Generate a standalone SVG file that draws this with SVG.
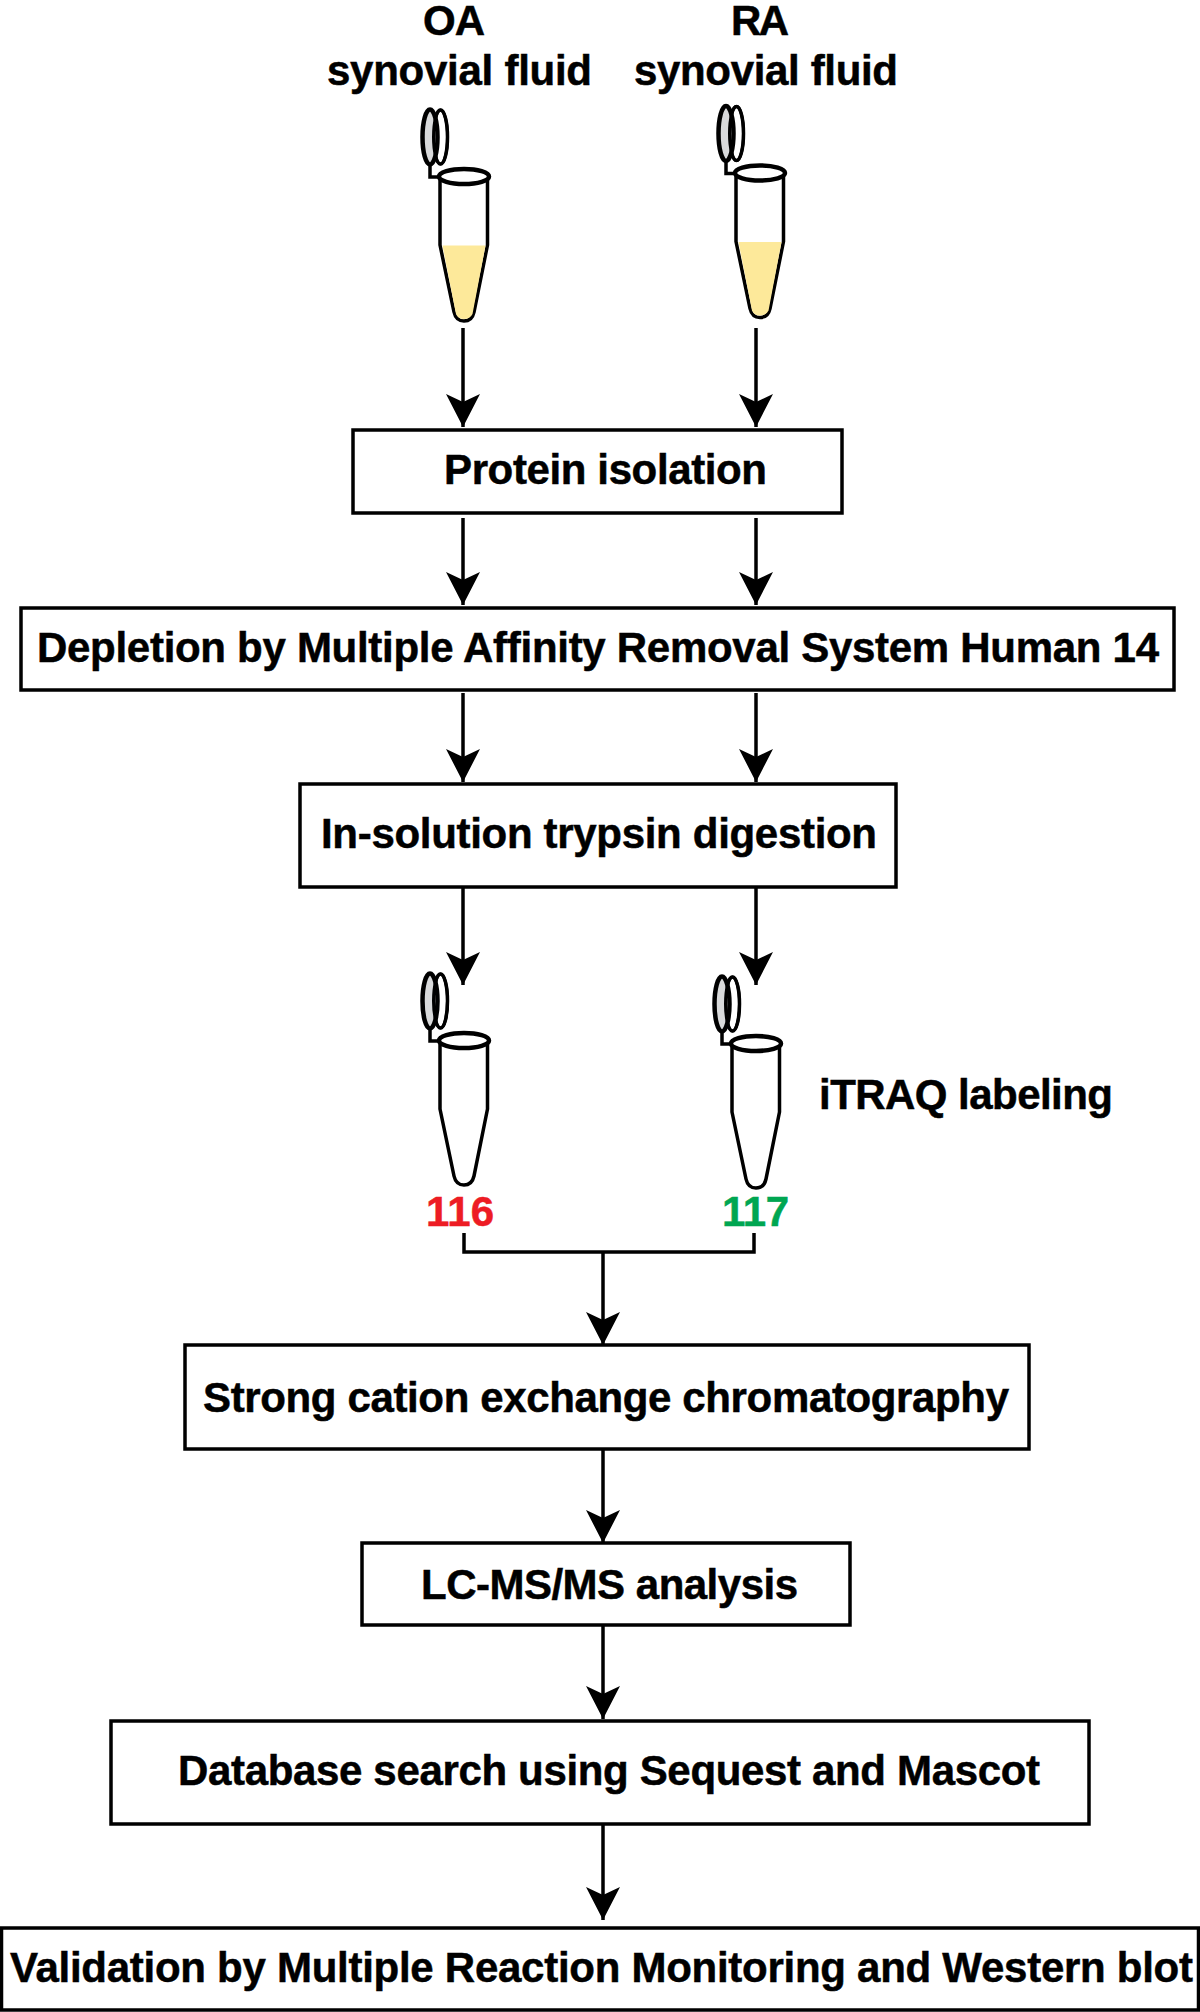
<svg xmlns="http://www.w3.org/2000/svg" xmlns:xlink="http://www.w3.org/1999/xlink" width="1200" height="2012" viewBox="0 0 1200 2012">
<style>
text{font-family:"Liberation Sans",Arial,sans-serif;font-weight:700;font-size:42px;fill:#000;stroke:#000;stroke-width:.5}
.box{fill:#fff;stroke:#000;stroke-width:3.5}
.c{fill:none;stroke:#000;stroke-width:3.5}
.t{fill:#fff;stroke:#000;stroke-width:3.5;stroke-linejoin:round}
.r{fill:#fff;stroke:#000;stroke-width:4.5}
.cap{fill:#fff;stroke:#000;stroke-width:3.5}
.capb{fill:#d9dadb;stroke:#000;stroke-width:4.5}
.capl{fill:none;stroke:#000;stroke-width:3}
</style>
<defs>
<marker id="a" markerUnits="userSpaceOnUse" markerWidth="34" markerHeight="34" refX="33" refY="17" orient="auto"><path d="M0 0L33 17L0 34L8 17Z" fill="#000"/></marker>
<g id="tube">
<ellipse class="cap" cx="440.500" cy="137" rx="7" ry="27"/>
<ellipse class="capb" cx="430" cy="137" rx="7.500" ry="27.500"/>
<ellipse class="capl" cx="440.500" cy="137" rx="7" ry="27"/>
<path class="c" d="M430 165V177H442"/>
<path class="t" d="M440 180V245L454 312Q456 321 464 321Q472 321 474 312L487.500 245V180Z"/>
<ellipse class="r" cx="464" cy="176.500" rx="25" ry="7.500"/>
</g>
</defs>
<g id="labels">
<text x="423" y="35" textLength="62">OA</text>
<text x="327" y="85" textLength="265">synovial fluid</text>
<text x="731" y="35" textLength="58">RA</text>
<text x="634" y="85" textLength="264">synovial fluid</text>
</g>
<g id="tube-oa">
<use xlink:href="#tube" href="#tube"/>
<path d="M442.500 245.500H485.500L472.500 314Q470 319 464 319Q458 319 456 314Z" fill="#fde99a"/>
</g>
<g id="tube-ra" transform="translate(296 -3.500)">
<use xlink:href="#tube" href="#tube"/>
<path d="M442.500 245.500H485.500L472.500 314Q470 319 464 319Q458 319 456 314Z" fill="#fde99a"/>
</g>
<g id="tube-116" transform="translate(0 864)"><use xlink:href="#tube" href="#tube"/></g>
<g id="tube-117" transform="translate(292 867)"><use xlink:href="#tube" href="#tube"/></g>
<g id="connectors" class="c" fill="none" stroke="#000" stroke-width="3.500">
<path marker-end="url(#a)" d="M463 328V427"/>
<path marker-end="url(#a)" d="M756 328V427"/>
<path marker-end="url(#a)" d="M463 518V605"/>
<path marker-end="url(#a)" d="M756 518V605"/>
<path marker-end="url(#a)" d="M463 693V782"/>
<path marker-end="url(#a)" d="M756 693V782"/>
<path marker-end="url(#a)" d="M463 888V985"/>
<path marker-end="url(#a)" d="M756 888V985"/>
<path d="M464 1233V1252H754V1233"/>
<path marker-end="url(#a)" d="M603 1252V1345"/>
<path marker-end="url(#a)" d="M603 1449V1543"/>
<path marker-end="url(#a)" d="M603 1625V1719"/>
<path marker-end="url(#a)" d="M603 1824V1920"/>
</g>
<g id="n1"><rect class="box" x="353" y="430" width="489" height="83"/><text x="444" y="484" textLength="323">Protein isolation</text></g>
<g id="n2"><rect class="box" x="21" y="608" width="1153" height="82"/><text x="37" y="662" textLength="1122">Depletion by Multiple Affinity Removal System Human 14</text></g>
<g id="n3"><rect class="box" x="300" y="784" width="596" height="103"/><text x="321" y="848" textLength="556">In-solution trypsin digestion</text></g>
<g id="itraq"><text x="819" y="1109" textLength="294">iTRAQ labeling</text></g>
<g id="l116"><text x="426" y="1226" textLength="68" style="fill:#ed1c24;stroke:#ed1c24">116</text></g>
<g id="l117"><text x="722" y="1226" textLength="67" style="fill:#00a651;stroke:#00a651">117</text></g>
<g id="n4"><rect class="box" x="185" y="1345" width="844" height="104"/><text x="203" y="1412" textLength="806">Strong cation exchange chromatography</text></g>
<g id="n5"><rect class="box" x="362" y="1543" width="488" height="82"/><text x="421" y="1599" textLength="377">LC-MS/MS analysis</text></g>
<g id="n6"><rect class="box" x="111" y="1721" width="978" height="103"/><text x="178" y="1785" textLength="862">Database search using Sequest and Mascot</text></g>
<g id="n7"><rect class="box" x="1.500" y="1928" width="1197" height="82"/><text x="10" y="1982" textLength="1183">Validation by Multiple Reaction Monitoring and Western blot</text></g>
</svg>
